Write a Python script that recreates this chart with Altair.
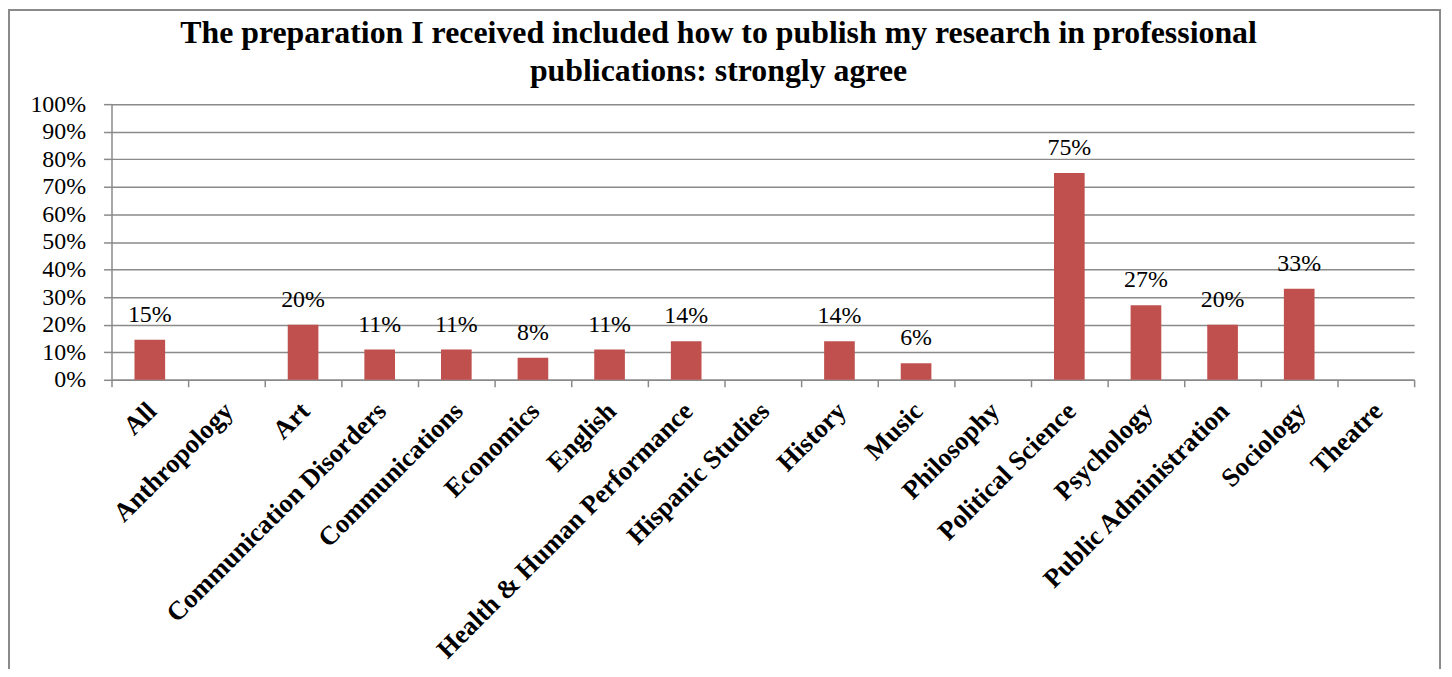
import altair as alt
import pandas as pd

categories = ["All", "Anthropology", "Art", "Communication Disorders", "Communications",
              "Economics", "English", "Health & Human Performance", "Hispanic Studies",
              "History", "Music", "Philosophy", "Political Science", "Psychology",
              "Public Administration", "Sociology", "Theatre"]
values = [0.145, 0.0, 0.20, 0.11, 0.11, 0.08, 0.11, 0.14, 0.0, 0.14, 0.06, 0.0,
          0.75, 0.27, 0.20, 0.33, 0.0]
labels = ["15%", "", "20%", "11%", "11%", "8%", "11%", "14%", "", "14%", "6%", "",
          "75%", "27%", "20%", "33%", ""]
y_ticks = [i / 10 for i in range(11)]

title_lines = ["The preparation I received included how to publish my research in professional",
               "publications: strongly agree"]

df = pd.DataFrame({"cat": categories, "val": values, "lab": labels})

GRAY = "#8a8a8a"
SERIF = "Liberation Serif"

x_enc = alt.X("cat:N", sort=categories, title=None,
              scale=alt.Scale(paddingInner=0, paddingOuter=0),
              axis=alt.Axis(labelAngle=-45, labelAlign="right", labelBaseline="middle",
                            labelFont=SERIF, labelFontSize=26.5, labelFontWeight="bold",
                            labelColor="black", labelPadding=20, labelOffset=2, labelLimit=0,
                            labelOverlap=False,
                            tickBand="extent", tickSize=7, tickColor=GRAY, tickWidth=1.5,
                            domainColor=GRAY, domainWidth=1.5, grid=False))
y_enc = alt.Y("val:Q", title=None,
              scale=alt.Scale(domain=[0, 1], nice=False),
              axis=alt.Axis(values=y_ticks, format=".0%", labelFont=SERIF, labelFontSize=24,
                            labelFontWeight="normal",
                            labelColor="black", labelPadding=18, labelOverlap=False,
                            tickSize=8, tickColor=GRAY,
                            tickWidth=1.5, domainColor=GRAY, domainWidth=1.5,
                            grid=True, gridColor=GRAY, gridWidth=1.5))

bars = alt.Chart(df).mark_bar(color="#C0504D", width=alt.RelativeBandSize(0.4)).encode(
    x=x_enc, y=y_enc)

text = alt.Chart(df).mark_text(font=SERIF, fontSize=24, baseline="alphabetic",
                               dy=-18, color="black").encode(
    x=x_enc, y=y_enc, text="lab:N")

one = alt.Data(values=[{"k": 1}])

title1 = alt.Chart(one).mark_text(font=SERIF, fontSize=32, fontWeight="bold",
                                  baseline="alphabetic", align="center", color="black",
                                  clip=False).encode(
    x=alt.value(610), y=alt.value(-61.5), text=alt.value(title_lines[0]))
title2 = alt.Chart(one).mark_text(font=SERIF, fontSize=32, fontWeight="bold",
                                  baseline="alphabetic", align="center", color="black",
                                  clip=False).encode(
    x=alt.value(610), y=alt.value(-23), text=alt.value(title_lines[1]))

border = alt.Chart(one).mark_rect(
    fill=None, stroke=GRAY, strokeWidth=2, clip=False).encode(
    x=alt.value(-103), x2=alt.value(1335), y=alt.value(-94.5), y2=alt.value(700))

chart = alt.layer(bars, text, title1, title2, border).properties(
    width=1309, height=277,
    padding={"left": 104, "top": 95, "right": 30, "bottom": 289},
    autosize=alt.AutoSizeParams(type="none"),
).configure_view(stroke=None)

chart.save("out.html", embed_options={"renderer": "svg", "actions": False})
